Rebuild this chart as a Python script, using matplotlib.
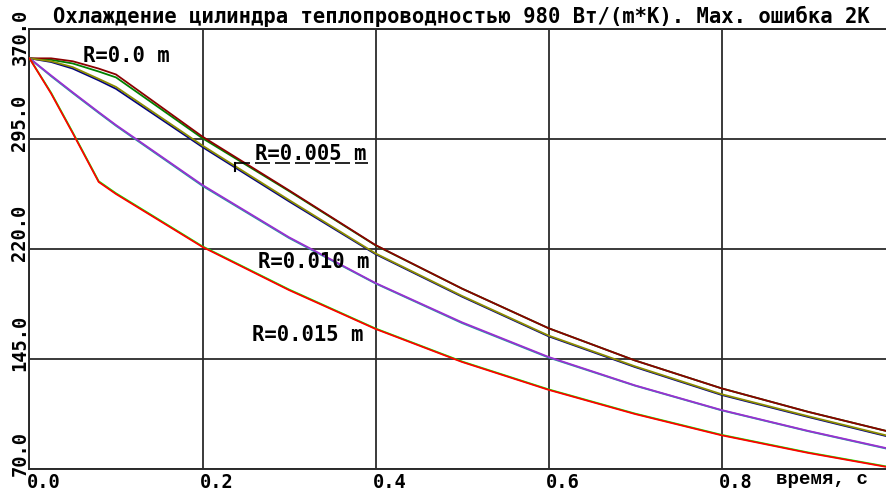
import matplotlib
matplotlib.use("Agg")
import matplotlib.pyplot as plt
import matplotlib.transforms as mtransforms

# ---------------- data ----------------
title = "Охлаждение цилиндра теплопроводностью 980 Вт/(m*K). Max. ошибка 2K"
x_label = "время, с"
time_s = [0.0, 0.025, 0.05, 0.08, 0.1, 0.2, 0.3, 0.4, 0.5, 0.6, 0.7, 0.8, 0.9, 0.99]

r000_a = [350, 350, 348, 343, 339, 296.6, 260, 222.7, 193, 166, 144, 125, 109, 96]
r000_b = [350, 349, 346.5, 341, 337, 295.5, 259.5, 222.5, 193, 166, 144, 125, 109, 96]
r005_a = [350, 348, 344, 336, 330.5, 290.5, 253.4, 217, 188, 161, 140, 121, 106, 93]
r005_b = [350, 347.5, 343, 335, 329.2, 289.5, 252.5, 216.5, 187.5, 160.5, 139.5, 120.5, 105.5, 92.5]
r010_a = [350, 338.3, 326.8, 313.3, 304.5, 263.6, 228, 196.8, 170, 146.4, 127, 110.2, 96, 84.3]
r010_b = [350, 337.8, 326.3, 312.8, 304.0, 263, 227.5, 196.5, 169.5, 146, 126.8, 110, 95.8, 84]
r015_a = [350, 326, 299, 265.7, 257.5, 221.4, 192, 165.5, 143, 124, 107.5, 93, 81, 71.5]
r015_b = [350, 326.5, 299.5, 266.2, 258, 221.8, 192.4, 165.8, 143.3, 124.3, 107.8, 93.3, 81.3, 71.8]

x_ticks = [0.0, 0.2, 0.4, 0.6, 0.8]
x_tick_labels = ["0.0", "0.2", "0.4", "0.6", "0.8"]
y_ticks = [70.0, 145.0, 220.0, 295.0, 370.0]
y_tick_labels = ["70.0", "145.0", "220.0", "295.0", "370.0"]

curve_labels = ["R=0.0 m", "R=0.005 m", "R=0.010 m", "R=0.015 m"]
label_t = [0.062, 0.261, 0.264, 0.257]
label_T = [351.6, 285.0, 210.8, 161.4]

# ---------------- figure ----------------
W, H = 886, 492
fig = plt.figure(figsize=(W / 100, H / 100), dpi=100)
fig.patch.set_facecolor("white")

ax_left, ax_top, ax_bottom = 29.5, 29.0, 469.0
ax = fig.add_axes([ax_left / W, 1 - ax_bottom / H, 1 - ax_left / W, (ax_bottom - ax_top) / H])
ax.set_xlim(0, (W - ax_left) / 865.0)
ax.set_ylim(70, 370)
ax.set_facecolor("white")

gc = "#2b2b2b"
ax.set_xticks(x_ticks)
ax.set_yticks(y_ticks)
ax.tick_params(length=0, labelbottom=False, labelleft=False)
ax.grid(True, color=gc, linewidth=1.3)
ax.set_axisbelow(True)
for side in ["left", "bottom", "top"]:
    ax.spines[side].set_color(gc)
    ax.spines[side].set_linewidth(1.4)
ax.spines["right"].set_visible(False)

lw = 1.3
ax.plot(time_s, r000_b, color="#008000", lw=lw, zorder=3)
ax.plot(time_s, r000_a, color="#8b0000", lw=lw, zorder=3)
ax.plot(time_s, r005_b, color="#000080", lw=lw, zorder=3)
ax.plot(time_s, r005_a, color="#8c8c00", lw=lw, zorder=3)
ax.plot(time_s, r010_b, color="#20a0a0", lw=lw, zorder=3)
ax.plot(time_s, r010_a, color="#9a30d0", lw=lw, zorder=3)
ax.plot(time_s, r015_b, color="#00ff00", lw=lw, zorder=3)
ax.plot(time_s, r015_a, color="#ff0000", lw=lw, zorder=3)

mono = "DejaVu Sans Mono"
for txt, tx, ty in zip(curve_labels, label_t, label_T):
    ax.text(tx, ty, txt, family=mono, weight="bold", fontsize=14.8,
            ha="left", va="center", color="black", zorder=5)

# leader / underline for R=0.005 label
ax.plot([0.2376, 0.3913], [278.6, 278.6], color="black", lw=1.2,
        dashes=(9, 3), zorder=5)
ax.plot([0.2376, 0.2376], [278.6, 273.0], color="black", lw=1.5, zorder=5)

# x tick labels
for v, s in zip(x_ticks, x_tick_labels):
    tr = ax.get_xaxis_transform() + mtransforms.ScaledTranslation(-3 / 100, -4 / 100, fig.dpi_scale_trans)
    ax.text(v, 0, s, transform=tr, family=mono, weight="bold", fontsize=13.5,
            ha="left", va="top", clip_on=False)

# y tick labels (rotated)
for v, s in zip(y_ticks, y_tick_labels):
    dy = 16 if v < max(y_ticks) else -8
    tr = ax.get_yaxis_transform() + mtransforms.ScaledTranslation(0, dy / 100, fig.dpi_scale_trans)
    ax.text(-9.5 / (W - ax_left), v, s, transform=tr, family=mono, weight="bold",
            fontsize=13.5, rotation=90, ha="center", va="center", clip_on=False)

fig.text(776 / W, 1 - 479 / H, x_label, family="Liberation Mono", weight="bold",
         fontsize=13.8, ha="left", va="center")

fig.text(53 / W, 1 - 16 / H, title, family=mono, weight="bold", fontsize=14.8,
         ha="left", va="center")

fig.savefig("out.png", dpi=100, facecolor="white")
